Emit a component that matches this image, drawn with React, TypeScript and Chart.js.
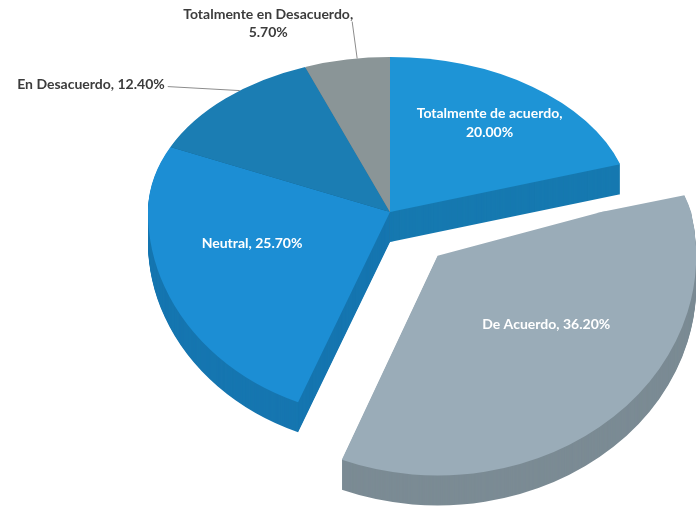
import { useEffect, useRef } from "react";
import { Chart, registerables } from "chart.js";

Chart.register(...registerables);

// ---- data ----
const categories = [
  "Totalmente de acuerdo",
  "De Acuerdo",
  "Neutral",
  "En Desacuerdo",
  "Totalmente en Desacuerdo",
];
const values = [20.0, 36.2, 25.7, 12.4, 5.7];

// ---- style ----
const topColors = ["#1e94d6", "#9aacb8", "#1c8ed4", "#1b7db3", "#8a9597"];
const sideColors = ["#1679b0", "#7b8b94", "#1676b0", "#155f8a", "#6e7779"];
const explodedIndex = 1;
const TILT_TOP = 0.64; // far half of the disc (perspective: flatter)
const TILT_BOTTOM = 0.85; // near half of the disc
const DEPTH = 30;
const FONT = "bold 14px Lato";
// label placement: [fraction along the slice's angle span, fraction of radius]
const labelPlace = [
  [0.5, 0.7],
  [0.42, 0.56],
  [0.57, 0.59],
  [0.6, 1.0],
  [0.62, 1.0],
];

function drawHalf(
  ctx: CanvasRenderingContext2D,
  arcs: any[],
  cx: number,
  cy: number,
  dy: number,
  top: boolean,
  colors: string[] | null
) {
  ctx.save();
  ctx.beginPath();
  if (top) ctx.rect(-2000, -2000, 6000, cy + dy + 2000 + 0.5);
  else ctx.rect(-2000, cy + dy - 0.5, 6000, 4000);
  ctx.clip();
  ctx.translate(0, dy);
  ctx.translate(cx, cy);
  ctx.scale(1, top ? TILT_TOP : TILT_BOTTOM);
  ctx.translate(-cx, -cy);
  arcs.forEach((arc: any, i: number) => {
    if (colors) {
      const saved = arc.options;
      arc.options = { ...saved, backgroundColor: colors[i], borderWidth: 0 };
      arc.draw(ctx);
      arc.options = saved;
    } else {
      arc.draw(ctx);
    }
  });
  ctx.restore();
}

const pie3d = {
  id: "pie3d",
  beforeDatasetsDraw(chart: any) {
    const ctx: CanvasRenderingContext2D = chart.ctx;
    const arcs = chart.getDatasetMeta(0).data;
    const cx = arcs[0].x;
    const cy = arcs[0].y;
    for (let d = DEPTH; d >= 1; d--) {
      drawHalf(ctx, arcs, cx, cy, d, true, sideColors);
      drawHalf(ctx, arcs, cx, cy, d, false, sideColors);
    }
    drawHalf(ctx, arcs, cx, cy, 0, true, null);
    drawHalf(ctx, arcs, cx, cy, 0, false, null);
    return false; // tops already drawn through the arc elements
  },
  afterDraw(chart: any) {
    const ctx: CanvasRenderingContext2D = chart.ctx;
    const arcs = chart.getDatasetMeta(0).data;
    ctx.save();
    ctx.font = FONT;
    ctx.textBaseline = "middle";
    arcs.forEach((arc: any, i: number) => {
      const { x, y, startAngle, endAngle, outerRadius } = arc.getProps(
        ["x", "y", "startAngle", "endAngle", "outerRadius"],
        true
      );
      const mid = (startAngle + endAngle) / 2;
      const off = (arc.options.offset || 0) / 4;
      const [af, rf] = labelPlace[i];
      const a = startAngle + af * (endAngle - startAngle);
      const r = rf * outerRadius;
      const yy = Math.sin(mid) * off + Math.sin(a) * r;
      const p = {
        x: x + Math.cos(mid) * off + Math.cos(a) * r,
        y: y + yy * (yy < 0 ? TILT_TOP : TILT_BOTTOM),
      };
      const val = values[i].toFixed(2) + "%";
      const cat = categories[i];
      if (i === 0) {
        ctx.fillStyle = "#ffffff";
        ctx.textAlign = "center";
        ctx.fillText(cat + ",", p.x, p.y - 11);
        ctx.fillText(val, p.x, p.y + 8);
      } else if (i === 1 || i === 2) {
        ctx.fillStyle = "#ffffff";
        ctx.textAlign = "center";
        ctx.fillText(cat + ", " + val, p.x, p.y);
      } else if (i === 3) {
        const endX = p.x - 72;
        const endY = p.y - 4;
        ctx.strokeStyle = "#8c8c8c";
        ctx.lineWidth = 1;
        ctx.beginPath();
        ctx.moveTo(p.x, p.y);
        ctx.lineTo(endX, endY);
        ctx.stroke();
        ctx.fillStyle = "#3c3c3c";
        ctx.textAlign = "right";
        ctx.fillText(cat + ", " + val, endX - 3, endY - 2);
      } else {
        const endX = p.x - 5;
        const endY = p.y - 37;
        ctx.strokeStyle = "#8c8c8c";
        ctx.lineWidth = 1;
        ctx.beginPath();
        ctx.moveTo(p.x, p.y);
        ctx.lineTo(endX, endY);
        ctx.stroke();
        const line1 = cat + ",";
        const w = ctx.measureText(line1).width;
        const tx = endX + 1 - w / 2;
        ctx.fillStyle = "#3c3c3c";
        ctx.textAlign = "center";
        ctx.fillText(line1, tx, endY - 7);
        ctx.fillText(val, tx, endY + 11);
      }
    });
    ctx.restore();
  },
};

export default function App() {
  const ref = useRef<HTMLCanvasElement | null>(null);
  useEffect(() => {
    if (!ref.current) return;
    const chart = new Chart(ref.current, {
      type: "pie",
      data: {
        labels: categories,
        datasets: [
          {
            data: values,
            backgroundColor: topColors,
            borderWidth: 0,
            offset: values.map((_, i) => (i === explodedIndex ? 280 : 0)),
            clip: false,
          } as any,
        ],
      },
      options: {
        animation: false,
        responsive: true,
        maintainAspectRatio: false,
        events: [],
        radius: 242,
        layout: { padding: { left: 84, right: 0, top: 0, bottom: 93 } },
        plugins: {
          legend: { display: false },
          tooltip: { enabled: false },
        },
      } as any,
      plugins: [pie3d],
    });
    return () => chart.destroy();
  }, []);
  return (
    <div style={{ position: "fixed", left: 0, top: 0, width: 696, height: 517, background: "#ffffff" }}>
      <canvas ref={ref} />
    </div>
  );
}
